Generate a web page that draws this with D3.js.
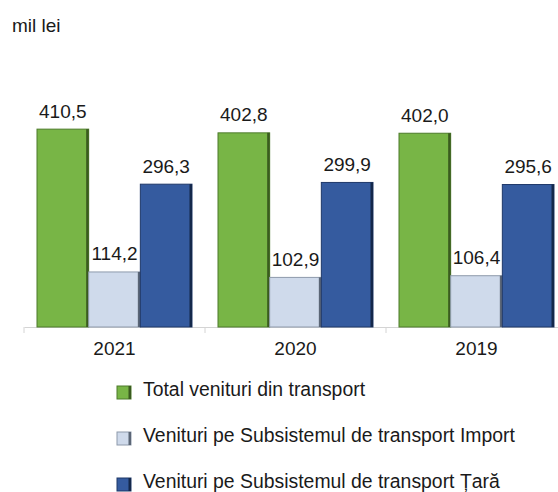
<!DOCTYPE html>
<html>
<head>
    <meta charset="utf-8">
    <title>Venituri transport</title>
    <script src="https://d3js.org/d3.v7.min.js"></script>
    <style type="text/css">
        body { margin: 0; background: #fff; }
        text { font-family: "Liberation Sans", Arial, sans-serif; fill: #1a1a1a; }
    </style>
</head>
<body>
    <script type="text/javascript">
        // data
        let years = ["2021", "2020", "2019"];
        let seriesNames = [
            "Total venituri din transport",
            "Venituri pe Subsistemul de transport Import",
            "Venituri pe Subsistemul de transport Țară"
        ];
        let totalValues = [410.5, 402.8, 402.0];
        let importValues = [114.2, 102.9, 106.4];
        let taraValues = [296.3, 299.9, 295.6];
        let fills = ["#78b546", "#cfdaeb", "#355b9f"];
        let borders = ["#4d7b2b", "#8e9aab", "#1f3869"];
        let shades = ["#3a5b1f", "#5b6676", "#14284b"];

        let width = 558, height = 492;
        let svg = d3.select("body").append("svg")
            .attr("width", width)
            .attr("height", height);

        let rows = years.map((yr, i) => ({
            year: yr,
            vals: [totalValues[i], importValues[i], taraValues[i]]
        }));

        let x0 = d3.scaleBand().domain(years).range([24, 567]);
        let x1 = d3.scaleBand().domain(d3.range(3)).range([13, x0.bandwidth() - 13]);
        let y = d3.scaleLinear().domain([0, 500]).range([327, 86]);

        svg.append("text")
            .attr("x", 12).attr("y", 32)
            .style("font-size", "19px")
            .text("mil lei");

        // axis: line plus ticks between categories
        let axis = d3.axisBottom(x0).tickSize(0).tickFormat("");
        let gx = svg.append("g").attr("transform", "translate(0," + y(0) + ")").call(axis);
        gx.select(".domain").attr("stroke", "#d4d4d4");
        gx.selectAll(".sep")
            .data(years)
            .enter().append("line")
            .attr("x1", d => x0(d)).attr("x2", d => x0(d))
            .attr("y1", 0).attr("y2", 6)
            .attr("stroke", "#d4d4d4");

        let groups = svg.selectAll(".grp")
            .data(rows)
            .enter().append("g")
            .attr("transform", d => "translate(" + x0(d.year) + ",0)");

        let bars = groups.selectAll(".bar")
            .data(d => d.vals.map((v, k) => ({ v: v, k: k })))
            .enter().append("g");

        bars.append("rect")
            .attr("x", d => x1(d.k))
            .attr("y", d => y(d.v))
            .attr("width", x1.bandwidth())
            .attr("height", d => y(0) - y(d.v))
            .attr("fill", d => fills[d.k])
            .attr("stroke", d => borders[d.k])
            .attr("stroke-width", 1);

        bars.append("rect")
            .attr("x", d => x1(d.k) + x1.bandwidth() - 2.5)
            .attr("y", d => y(d.v))
            .attr("width", 2.5)
            .attr("height", d => y(0) - y(d.v))
            .attr("fill", d => shades[d.k]);

        bars.append("text")
            .attr("x", d => x1(d.k) + x1.bandwidth() / 2)
            .attr("y", d => y(d.v) - 11.5)
            .attr("text-anchor", "middle")
            .style("font-size", "19px")
            .text(d => d3.format(".1f")(d.v).replace(".", ","));

        groups.append("text")
            .attr("x", x0.bandwidth() / 2)
            .attr("y", 355)
            .attr("text-anchor", "middle")
            .style("font-size", "19px")
            .text(d => d.year);

        // legend
        let legend = svg.selectAll(".leg")
            .data(seriesNames)
            .enter().append("g")
            .attr("transform", (d, i) => "translate(117," + (396 + i * 46) + ")");

        legend.append("rect")
            .attr("x", 0).attr("y", -10)
            .attr("width", 14).attr("height", 13)
            .attr("fill", (d, i) => fills[i])
            .attr("stroke", (d, i) => borders[i]);

        legend.append("rect")
            .attr("x", 11.5).attr("y", -10)
            .attr("width", 2.5).attr("height", 13)
            .attr("fill", (d, i) => shades[i]);

        legend.append("text")
            .attr("x", 26).attr("y", 0)
            .style("font-size", "19.4px")
            .text(d => d);
    </script>
</body>
</html>
